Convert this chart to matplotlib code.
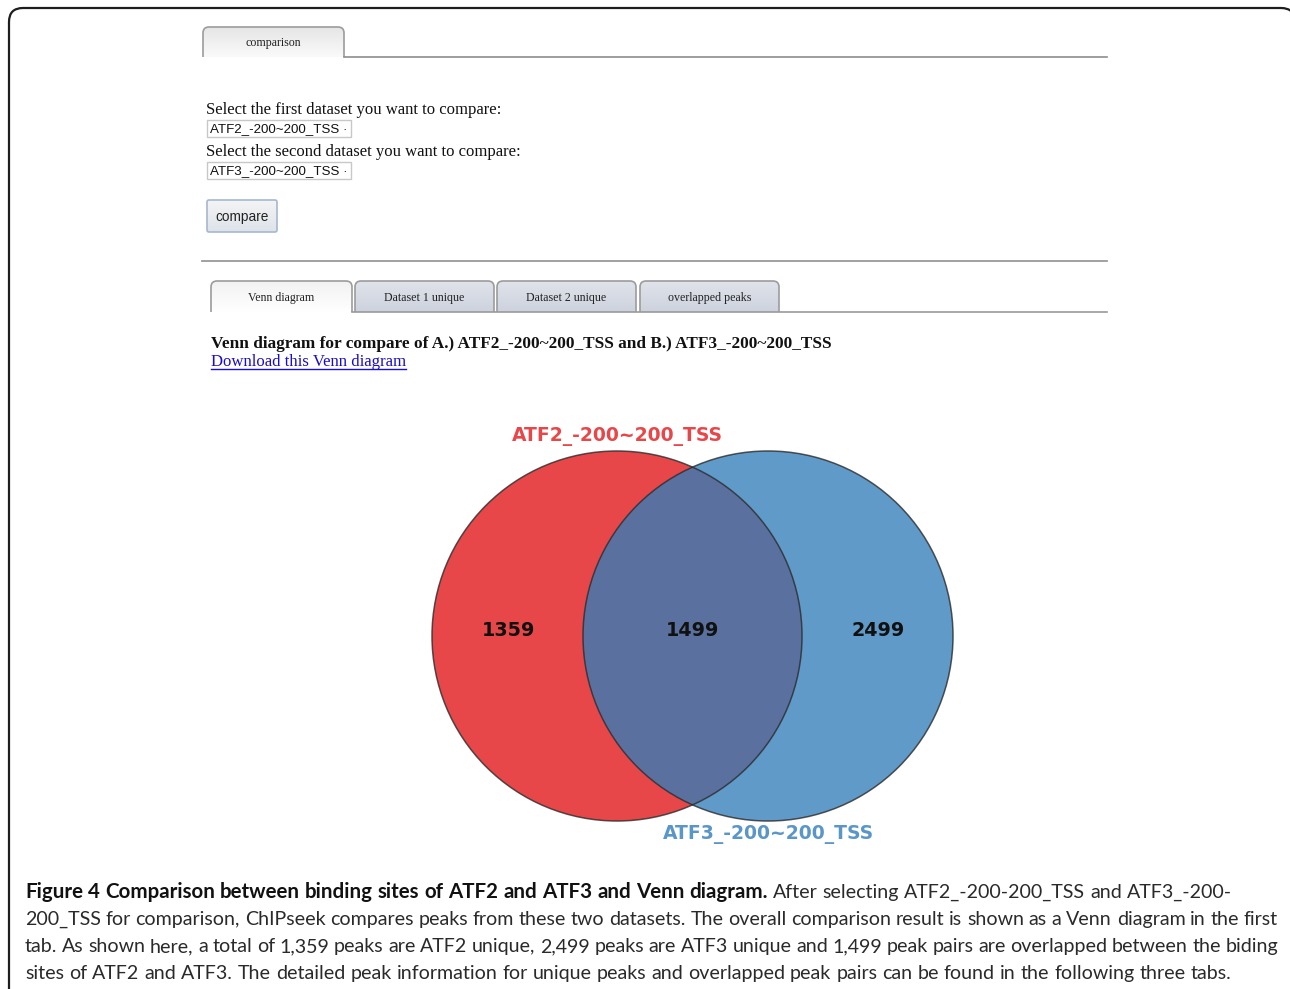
import numpy as np
import matplotlib
matplotlib.use("Agg")
import matplotlib.pyplot as plt
from matplotlib.patches import Circle, FancyBboxPatch, PathPatch, Rectangle
from matplotlib.path import Path
from matplotlib.colors import LinearSegmentedColormap

# ===============================
# Data
# ===============================
set_names = ["ATF2_-200~200_TSS", "ATF3_-200~200_TSS"]
region_counts = [1359, 1499, 2499]   # A only, A and B, B only
result_tabs = ["Venn diagram", "Dataset 1 unique", "Dataset 2 unique", "overlapped peaks"]
prompts = ["Select the first dataset you want to compare:",
           "Select the second dataset you want to compare:"]

caption_bold = "Figure 4 Comparison between binding sites of ATF2 and ATF3 and Venn diagram."
caption_lines = [
    "After selecting ATF2_-200-200_TSS and ATF3_-200-",
    "200_TSS for comparison, ChIPseek compares peaks from these two datasets. The overall comparison result is shown as a Venn diagram in the first",
    "tab. As shown here, a total of 1,359 peaks are ATF2 unique, 2,499 peaks are ATF3 unique and 1,499 peak pairs are overlapped between the biding",
    "sites of ATF2 and ATF3. The detailed peak information for unique peaks and overlapped peak pairs can be found in the following three tabs.",
]

RED = "#E8474A"
BLUE = "#609AC8"
BOTH = "#5A71A0"
SERIF = "Liberation Serif"
SANS = "Liberation Sans"
CAP_FONT = "Lato"

fig = plt.figure(figsize=(12.9, 9.89), dpi=100)
ax = fig.add_axes([0, 0, 1, 1])
ax.set_xlim(0, 1290)
ax.set_ylim(989, 0)
ax.axis("off")


def gradient(x0, y0, x1, y1, c_top, c_bot, clip=None):
    cmap = LinearSegmentedColormap.from_list("g", [c_top, c_bot])
    im = ax.imshow(np.linspace(0, 1, 64).reshape(-1, 1), cmap=cmap, aspect="auto",
                   extent=(x0, x1, y1, y0), origin="upper", zorder=1)
    if clip is not None:
        im.set_clip_path(clip)


def tab(x0, y0, x1, y1, label, c_top, c_bot, r=6):
    verts = [(x0, y1), (x0, y0 + r), (x0, y0), (x0 + r, y0), (x1 - r, y0),
             (x1, y0), (x1, y0 + r), (x1, y1)]
    codes = [Path.MOVETO, Path.LINETO, Path.CURVE3, Path.CURVE3, Path.LINETO,
             Path.CURVE3, Path.CURVE3, Path.LINETO]
    fill = PathPatch(Path(verts + [(x0, y1)], codes + [Path.CLOSEPOLY]),
                     facecolor="none", edgecolor="none")
    ax.add_patch(fill)
    gradient(x0, y0, x1, y1, c_top, c_bot, clip=fill)
    ax.add_patch(PathPatch(Path(verts, codes), facecolor="none",
                           edgecolor="#9C9C9C", lw=1.2, zorder=2))
    ax.text((x0 + x1) / 2, (y0 + y1) / 2 + 1, label, family=SERIF, fontsize=8.6,
            ha="center", va="center", color="#222222", zorder=3)


# outer frame
ax.add_patch(FancyBboxPatch((9, 8), 1286, 1010, boxstyle="round,pad=0,rounding_size=14",
                            facecolor="white", edgecolor="#1E1E1E", lw=1.6, zorder=0))

# ===============================
# Top form
# ===============================
tab(203, 27, 344, 57, "comparison", "#E6E6E6", "#FAFAFA")
ax.plot([344, 1107], [57, 57], color="#8E8E8E", lw=1.2, zorder=2)

for i, p in enumerate(prompts):
    y = 108 + 42 * i
    ax.text(206, y + 1.5, p, family=SERIF, fontsize=12, ha="left", va="center", color="#111111")
    ax.add_patch(Rectangle((207, y + 12), 144, 17, facecolor="white",
                           edgecolor="#C8C8C8", lw=1, zorder=2))
    ax.text(210, y + 21, set_names[i] + " \u00b7", family=SANS, fontsize=9.6,
            ha="left", va="center", color="#111111", zorder=3)

btn = FancyBboxPatch((207, 200), 70, 32, boxstyle="round,pad=0,rounding_size=2",
                     facecolor="none", edgecolor="#A7B7CF", lw=1.2, zorder=2)
ax.add_patch(btn)
gradient(207, 200, 277, 232, "#F4F4F4", "#DEE3EA", clip=btn)
ax.text(242, 217, "compare", family=SANS, fontsize=9.8, ha="center", va="center",
        color="#222222", zorder=3)

ax.plot([202, 1107], [261, 261], color="#9A9A9A", lw=1.3, zorder=2)

# ===============================
# Result tabs
# ===============================
tab_x = [211, 355, 497, 640]
tab_w = 140
for i, name in enumerate(result_tabs):
    if i == 0:
        tab(tab_x[i], 281, tab_x[i] + tab_w + 1, 312, name, "#F2F2F2", "#FFFFFF")
    else:
        tab(tab_x[i], 281, tab_x[i] + tab_w - 1, 312, name, "#E0E3EA", "#CDD2DE")
ax.plot([352, 1107], [312, 312], color="#9A9A9A", lw=1.2, zorder=2)

ax.text(211, 343.5, "Venn diagram for compare of A.) %s and B.) %s" % (set_names[0], set_names[1]),
        family=SERIF, fontsize=12.45, fontweight="bold", ha="left", va="center", color="#111111")
link = ax.text(211, 362.5, "Download this Venn diagram", family=SERIF, fontsize=12.1,
               ha="left", va="center", color="#1A0DCB")
r = fig.canvas.get_renderer()
lw_px = link.get_window_extent(r).width
ax.plot([211, 211 + lw_px], [369, 369], color="#1A0DCB", lw=1)

# ===============================
# Venn diagram
# ===============================
rad = 185
ca = (617, 636)
cb = (768, 636)
circ_a = Circle(ca, rad, facecolor=RED, edgecolor="none", zorder=4)
circ_b = Circle(cb, rad, facecolor=BLUE, edgecolor="none", zorder=4)
ax.add_patch(circ_a)
ax.add_patch(circ_b)
lens = Circle(ca, rad, facecolor=BOTH, edgecolor="none", zorder=5)
ax.add_patch(lens)
lens.set_clip_path(Circle(cb, rad, transform=ax.transData))
for c in (ca, cb):
    ax.add_patch(Circle(c, rad, facecolor="none", edgecolor="#2B2B2B", lw=1.1,
                        alpha=0.8, zorder=6))

label_x = [ca[0] - 108, (ca[0] + cb[0]) / 2, cb[0] + 110]
for x, n in zip(label_x, region_counts):
    ax.text(x, 630, str(n), fontsize=13.8, fontweight="bold", ha="center", va="center",
            color="#111111", zorder=7)
ax.text(617, 436, set_names[0], fontsize=13.5, fontweight="bold", ha="center",
        va="center", color=RED, zorder=7)
ax.text(768, 835, set_names[1], fontsize=13.5, fontweight="bold", ha="center",
        va="center", color="#5B96C8", zorder=7)

# ===============================
# Caption (justified)
# ===============================
CAP_FS = 14.1
CAP_FS_BOLD = 14.8
x_left, x_right = 25, 1278
baselines = [898, 925, 952, 979]


def make_words(line, weight):
    out = []
    size = CAP_FS_BOLD if weight == "bold" else CAP_FS
    for w in line.split(" "):
        t = ax.text(0, 0, w, family=CAP_FONT, fontsize=size, fontweight=weight,
                    ha="left", va="baseline", color="#111111" if weight == "bold" else "#2A2A2A")
        out.append(t)
    return out


space_probe = ax.text(0, 0, "a a", family=CAP_FONT, fontsize=CAP_FS)
aa_probe = ax.text(0, 0, "aa", family=CAP_FONT, fontsize=CAP_FS)
space_w = space_probe.get_window_extent(r).width - aa_probe.get_window_extent(r).width
space_probe.remove()
aa_probe.remove()

for li, line in enumerate(caption_lines):
    words = []
    if li == 0:
        words += make_words(caption_bold, "bold")
    words += make_words(line, "normal")
    widths = [t.get_window_extent(r).width for t in words]
    if li in (1, 2):
        gap = (x_right - x_left - sum(widths)) / (len(words) - 1)
    else:
        gap = space_w
    x = x_left
    for t, w in zip(words, widths):
        t.set_position((x, baselines[li]))
        x += w + gap

fig.savefig("out.png", dpi=100)
